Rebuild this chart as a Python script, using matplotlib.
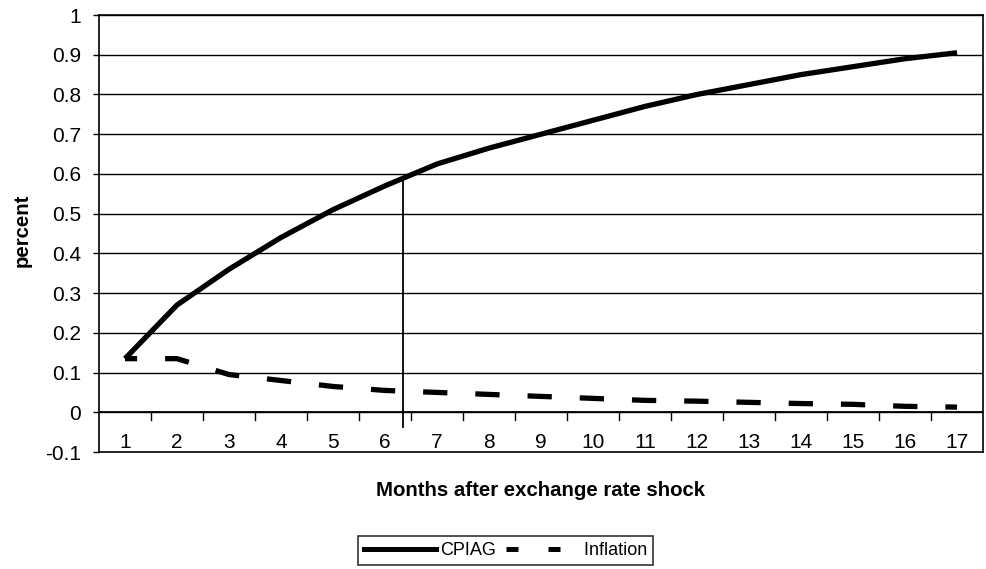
import matplotlib
import matplotlib.pyplot as plt
from matplotlib.lines import Line2D

matplotlib.use('Agg')
plt.rcParams['font.family'] = ['Liberation Sans', 'DejaVu Sans']

months = list(range(1, 18))
cpiag = [0.135, 0.27, 0.36, 0.44, 0.51, 0.57, 0.625, 0.665, 0.70, 0.735,
         0.77, 0.80, 0.825, 0.85, 0.87, 0.89, 0.905]
inflation = [0.135, 0.135, 0.095, 0.08, 0.065, 0.055, 0.05, 0.045, 0.04,
             0.035, 0.03, 0.028, 0.025, 0.022, 0.02, 0.015, 0.013]
y_ticks = [-0.1, 0, 0.1, 0.2, 0.3, 0.4, 0.5, 0.6, 0.7, 0.8, 0.9, 1]
y_tick_labels = ['-0.1', '0', '0.1', '0.2', '0.3', '0.4', '0.5', '0.6',
                 '0.7', '0.8', '0.9', '1']
marker_x = 6.35
marker_top = 0.59
marker_bottom = -0.037

fig = plt.figure(figsize=(9.86, 5.69), dpi=100)
ax = fig.add_axes([0.1004, 0.2056, 0.8966, 0.768])

ax.set_xlim(0.5, 17.5)
ax.set_ylim(-0.1, 1)

# horizontal grid like the old Excel chart
for v in y_ticks[1:]:
    ax.axhline(v, color='black', lw=1.0, zorder=1)

# category axis sits at zero, ticks between the categories
ax.axhline(0, color='black', lw=1.3, zorder=2)
for b in months[:-1]:
    ax.plot([b + 0.5, b + 0.5], [0, -0.02], color='black', lw=1.0, zorder=2)
for m in months:
    ax.text(m, -0.075, str(m), ha='center', va='center', fontsize=15)

ax.plot(months, cpiag, color='black', lw=3.8, solid_capstyle='butt', zorder=3)
ax.plot(months, inflation, color='black', lw=3.8,
        linestyle=(2.3, (4.6, 5.3)), dash_capstyle='butt', zorder=3)

ax.plot([marker_x, marker_x], [marker_bottom, marker_top], color='black', lw=1.3, zorder=3)

ax.set_xticks([])
ax.set_yticks(y_ticks)
ax.set_yticklabels(y_tick_labels, fontsize=15)
ax.tick_params(axis='y', length=4, width=1, pad=9, color='black')
for s in ax.spines.values():
    s.set_color('black')
    s.set_linewidth(1.2)

fig.text(0.0223, 0.596, 'percent', rotation=90, ha='center', va='center',
         fontsize=14.7, fontweight='bold')
fig.text(0.5477, 0.1388, 'Months after exchange rate shock', ha='center', va='center',
         fontsize=14.7, fontweight='bold')

handles = [Line2D([], [], color='black', lw=3.6),
           Line2D([], [], color='black', lw=3.6, linestyle=(7.8, (2.4, 6.0)))]
leg = fig.legend(handles, ['CPIAG', ' Inflation'], loc='center', bbox_to_anchor=(0.5127, 0.0325),
                 ncol=2, frameon=True, fancybox=False, fontsize=13, handlelength=4.0,
                 columnspacing=0.4, handletextpad=0.2, borderpad=0.35, borderaxespad=0)
leg.get_frame().set_edgecolor('black')
leg.get_frame().set_linewidth(1.2)

fig.savefig('out.png', dpi=100)
